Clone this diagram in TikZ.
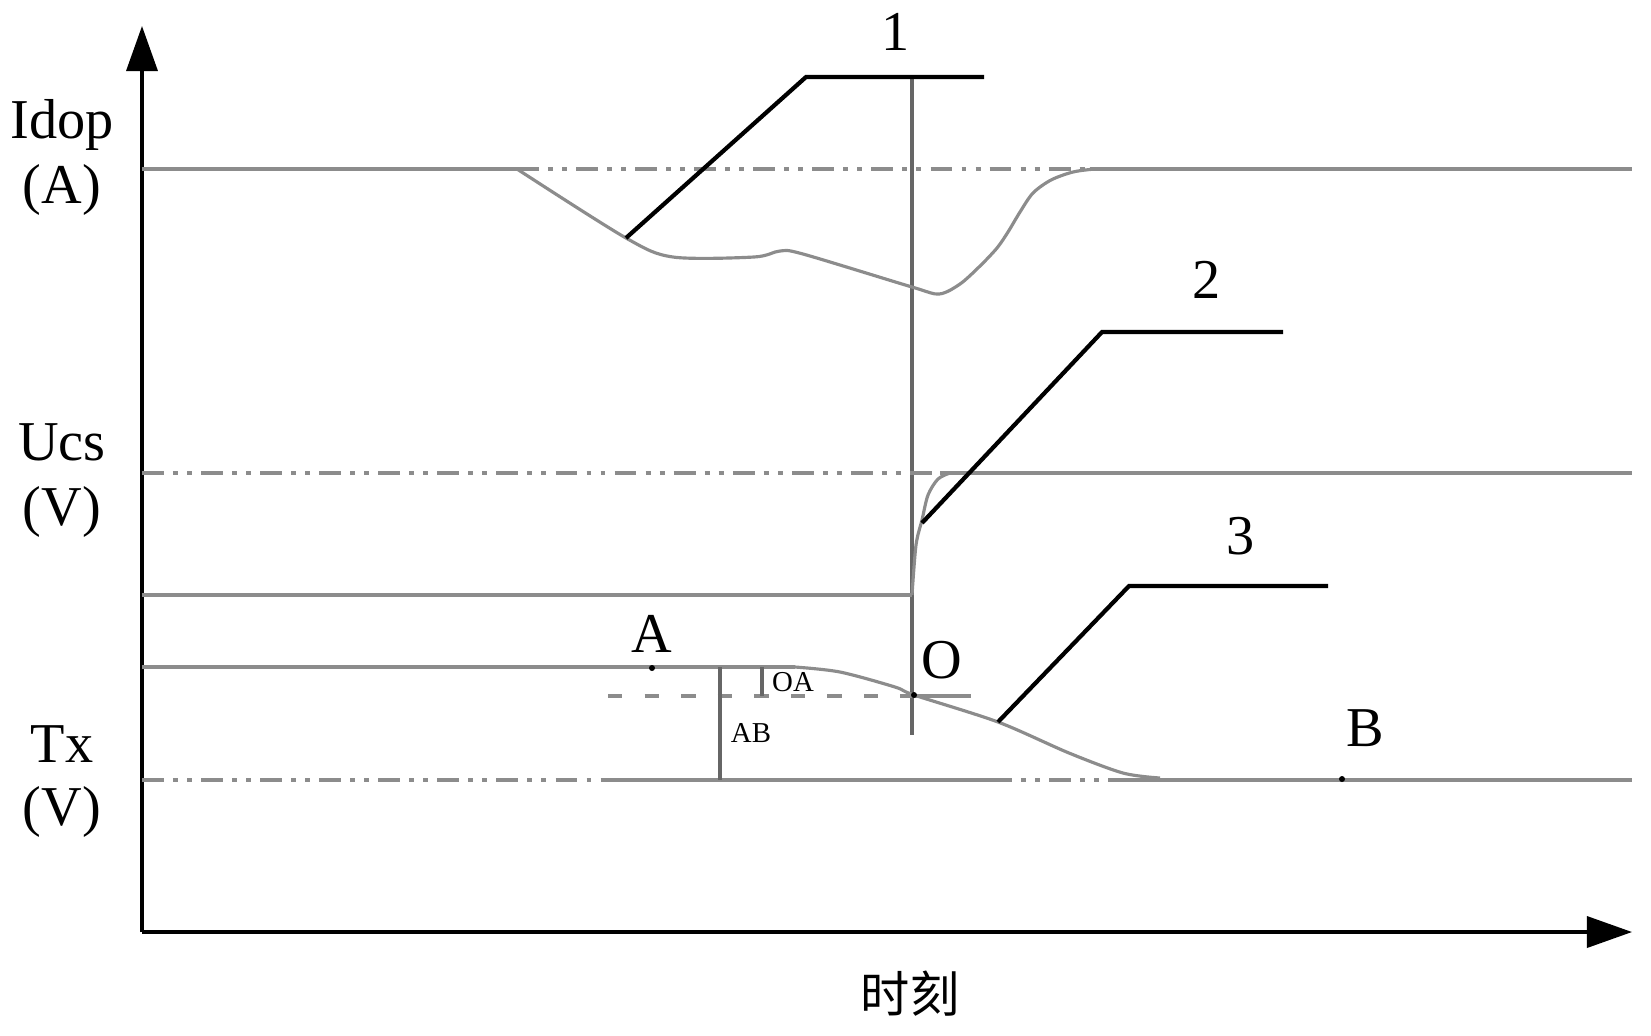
\documentclass[tikz,border=0pt]{standalone}
\usepackage{fontspec}
\setmainfont{Liberation Serif}
\newfontfamily\cjk{Noto Sans CJK SC}
\usetikzlibrary{arrows.meta}
\begin{document}
\begin{tikzpicture}[x=0.01cm,y=-0.01cm,
        axe/.style={line width=1pt,-{Triangle[length=0.45cm,width=0.31cm]}},
        trace/.style={line width=1.2pt,color=black!45},
        courbe/.style={line width=0.9pt,color=black!45},
        tiret/.style={trace,line width=1.4pt,dash pattern=on 6.2pt off 2.6pt on 1.4pt off 2.6pt on 1.4pt off 2.6pt},
        repere/.style={line width=1.2pt,black},
        lbl/.style={font=\fontsize{16}{16}\selectfont,anchor=base,inner sep=0pt},
        petit/.style={font=\fontsize{8.2}{8.2}\selectfont,anchor=base,inner sep=0pt},
        pastille/.style={circle,fill=black,inner sep=0pt,minimum size=0.06cm}]
        \useasboundingbox (0,0) rectangle (1651,1035);
        % axes
        \draw[axe] (142,932) -- (142,26);
        \draw[axe] (142,932) -- (1632,932);
        \node[lbl] (nIdop) at (62,138) {Idop};
        \node[lbl] (nA) at (62,203) {(A)};
        \node[lbl] (nUcs) at (62,460) {Ucs};
        \node[lbl] (nV1) at (62,525) {(V)};
        \node[lbl] (nTx) at (62,762) {Tx};
        \node[lbl] (nV2) at (62,825) {(V)};
        \node[font=\cjk\fontsize{14}{14}\selectfont] (ntemps) at (910,994) {时刻};
        % instant O
        \draw[line width=0.9pt,black!60] (912,77) -- (912,735);
        % Idop
        \draw[trace] (142,169) -- (517,169);
        \draw[tiret] (517,169) -- (1090,169);
        \draw[trace] (1090,169) -- (1632,169);
        \draw[courbe] plot[smooth,tension=0.5] coordinates {(517,169) (626,238) (673,257) (754,257) (780,251) (803,254) (912,287) (939,294) (960,284) (980,266) (997,248) (1008,232) (1020,212) (1033,193) (1051,180) (1073,172) (1095,169) (1106,169)};
        % Ucs
        \draw[tiret] (142,473) -- (940,473);
        \draw[trace] (940,473) -- (1632,473);
        \draw[trace] (142,595) -- (912,595);
        \draw[courbe] plot[smooth,tension=0.5] coordinates {(912,595) (916,545) (922,520) (928,495) (938,479) (950,473)};
        % Tx
        \draw[trace] (142,667) -- (795,667);
        \draw[courbe] plot[smooth,tension=0.5] coordinates {(795,667) (840,672) (895,687) (914,695) (998,722) (1069,753) (1123,773) (1160,778)};
        \draw[tiret] (142,780) -- (604,780);
        \draw[trace] (604,780) -- (990,780);
        \draw[tiret] (990,780) -- (1130,780);
        \draw[trace] (1130,780) -- (1632,780);
        \draw[trace,dash pattern=on 4.1pt off 6.3pt] (608,696) -- (900,696);
        \draw[trace] (900,696) -- (971,696);
        \draw[line width=0.9pt,black!60] (720,667) -- (720,780);
        \draw[line width=0.9pt,black!60] (762,667) -- (762,696);
        \node[pastille] (pA) at (652,668) {};
        \node[pastille] (pO) at (914,695) {};
        \node[pastille] (pB) at (1342,779) {};
        \node[lbl] (lA) at (652,652) {A};
        \node[lbl] (lO) at (942,678) {O};
        \node[lbl] (lB) at (1365,746) {B};
        \node[petit] (lAB) at (751,742) {AB};
        \node[petit] (lOA) at (793,691) {OA};
        % reperes 1, 2, 3
        \coordinate (c1) at (626,238);
        \coordinate (k1) at (806,77);
        \coordinate (e1) at (984,77);
        \draw[repere] (c1) -- (k1) -- (e1);
        \node[lbl] (n1) at (896,50) {1};
        \coordinate (c2) at (922,523);
        \coordinate (k2) at (1102,332);
        \coordinate (e2) at (1283,332);
        \draw[repere] (c2) -- (k2) -- (e2);
        \node[lbl] (n2) at (1207,298) {2};
        \coordinate (c3) at (998,722);
        \coordinate (k3) at (1129,586);
        \coordinate (e3) at (1328,586);
        \draw[repere] (c3) -- (k3) -- (e3);
        \node[lbl] (n3) at (1241,554) {3};
\end{tikzpicture}
\end{document}
